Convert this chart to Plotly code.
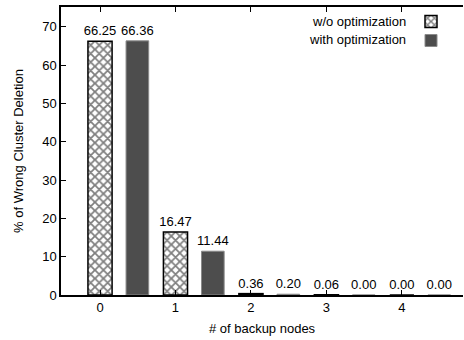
import plotly.graph_objects as go

backup_nodes = [0, 1, 2, 3, 4]
wo_opt = [66.25, 16.47, 0.36, 0.06, 0.00]
with_opt = [66.36, 11.44, 0.20, 0.00, 0.00]
series_names = ["w/o optimization", "with optimization"]

FONT = "Liberation Sans, Arial, Helvetica, sans-serif"

fig = go.Figure()
fig.add_trace(go.Bar(
    x=backup_nodes, y=wo_opt, name=" ",
    offset=-0.16, width=0.32,
    marker=dict(color="white", line=dict(color="black", width=1.5),
                pattern=dict(shape="x", fgcolor="black", bgcolor="white", size=6, solidity=0.5)),
    texttemplate="%{y:.2f}", textposition="outside", cliponaxis=False, constraintext="none",
    textfont=dict(family=FONT, size=13, color="black"),
))
fig.add_trace(go.Bar(
    x=backup_nodes, y=with_opt, name="  ",
    offset=0.345, width=0.3,
    marker=dict(color="#4d4d4d", line=dict(color="#8a8a8a", width=1)),
    texttemplate="%{y:.2f}", textposition="outside", cliponaxis=False, constraintext="none",
    textfont=dict(family=FONT, size=13, color="black"),
))

for i, nm in enumerate(series_names):
    fig.add_annotation(text=nm, xref="paper", yref="paper", x=0.863, y=0.95 - i * 0.064,
                       xanchor="right", yanchor="middle", showarrow=False,
                       font=dict(family=FONT, size=13, color="black"))

fig.update_layout(
    width=464, height=340,
    margin=dict(l=61, r=1, t=7, b=45),
    paper_bgcolor="white", plot_bgcolor="white",
    barmode="overlay",
    font=dict(family=FONT, size=13, color="black"),
    showlegend=True,
    legend=dict(x=1.0, xanchor="right", y=1.0, yanchor="top", bgcolor="rgba(0,0,0,0)",
                tracegroupgap=0, itemwidth=30, font=dict(size=11)),
    xaxis=dict(range=[-0.517, 4.81], tickvals=backup_nodes, ticktext=[str(v) for v in backup_nodes],
               showline=True, linecolor="black", linewidth=1.5, mirror="ticks",
               ticks="inside", ticklen=5, tickcolor="black", showgrid=False, zeroline=False,
               title=dict(text="# of backup nodes", font=dict(size=13), standoff=10)),
    yaxis=dict(range=[0, 75.2], tickvals=[0, 10, 20, 30, 40, 50, 60, 70],
               showline=True, linecolor="black", linewidth=1.5, mirror=False,
               ticks="inside", ticklen=5, tickcolor="black", showgrid=False, zeroline=False,
               title=dict(text="% of Wrong Cluster Deletion", font=dict(size=13), standoff=16)),
)

fig.write_html("out.html", config={"displayModeBar": False},
               post_script="document.body.style.margin='0';document.body.style.padding='0';")
